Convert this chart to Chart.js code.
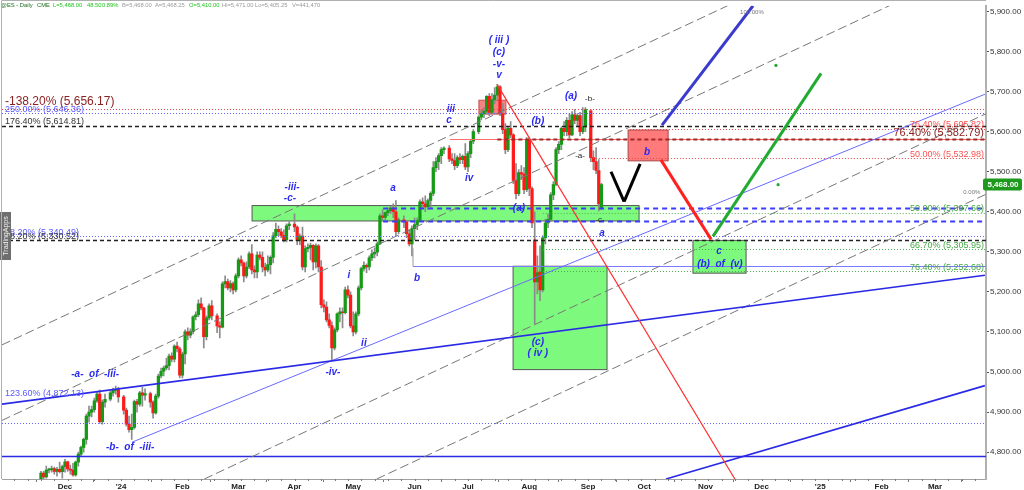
<!DOCTYPE html>
<html>
<head>
<meta charset="utf-8">
<script src="https://cdn.jsdelivr.net/npm/chart.js@4.4.1/dist/chart.umd.min.js"></script>
<style>
  html, body { margin: 0; padding: 0; background: #fff; }
  #wrap { width: 1024px; height: 490px; }
</style>
</head>
<body>
<div id="wrap"><canvas id="chart" width="1024" height="490"></canvas></div>
<script>
// axe x : index en jours ouvrés, 0 = lundi 1er janvier 2024
const monthIdx = [-21, 0, 23, 44, 65, 87, 110, 130, 153, 175, 196, 219, 240, 262, 285, 305];
const monthLabels = ["Dec", "'24", "Feb", "Mar", "Apr", "May", "Jun", "Jul", "Aug", "Sep", "Oct", "Nov", "Dec", "'25", "Feb", "Mar"];
const priceTicks = [4800, 4900, 5000, 5100, 5200, 5300, 5400, 5500, 5600, 5700, 5800, 5900];
const lastPrice = 5468;

// premier index de chaque bloc mensuel, puis [open, high, low, close] (null = jour férié)
const barStart = [-30, -21, 0, 23, 44, 65, 87, 110, 130, 153, 175];
const nov23 = [
  [4728,4752,4722,4748],[4748,4752,4730,4738],[4738,4765,4735,4755],[4755,4760,4748,4756],
  [4756,4765,4750,4759],[4759,4763,4745,4752],[4752,4762,4740,4757],[4757,4775,4748,4751],
  [4751,4768,4735,4764]
];
const dec23 = [
  [4764,4782,4750,4776],[4776,4778,4752,4758],[4758,4768,4745,4755],[4755,4772,4740,4743],
  [4743,4778,4740,4775],[4775,4800,4765,4795],[4795,4815,4790,4812],[4812,4835,4800,4832],
  [4832,4895,4820,4890],[4890,4915,4875,4900],[4900,4915,4888,4906],[4906,4935,4900,4928],
  [4928,4950,4924,4945],[4945,4955,4872,4876],[4876,4930,4870,4925],[4925,4945,4912,4932],
  null,[4932,4952,4928,4948],[4948,4960,4940,4954],[4954,4965,4945,4956],[4956,4962,4925,4938]
];
const jan24 = [
  null,[4938,4942,4895,4905],[4905,4910,4865,4870],[4870,4890,4850,4856],[4856,4895,4832,4862],
  [4862,4930,4858,4926],[4926,4932,4900,4920],[4920,4952,4915,4948],[4948,4962,4915,4942],
  [4942,4958,4930,4946],null,[4946,4950,4912,4925],[4925,4928,4885,4898],[4898,4945,4895,4940],
  [4940,4995,4935,4990],[4990,5010,4985,5002],[5002,5015,4990,5010],[5010,5035,5005,5016],
  [5016,5045,5005,5040],[5040,5048,5025,5032],[5032,5068,5025,5065],[5065,5075,5050,5058],
  [5058,5062,4985,4992]
];
const feb24 = [
  [4992,5050,4985,5045],[5045,5105,5020,5100],[5100,5110,5080,5092],[5092,5108,5085,5101],
  [5101,5140,5095,5138],[5138,5150,5130,5143],[5143,5180,5138,5170],[5170,5185,5155,5160],
  [5160,5162,5060,5088],[5088,5140,5080,5135],[5135,5170,5130,5165],[5165,5178,5130,5140],
  null,[5140,5145,5098,5115],[5115,5125,5085,5112],[5112,5225,5110,5220],[5220,5240,5210,5226],
  [5226,5232,5205,5210],[5210,5228,5200,5221],[5221,5225,5195,5205],[5205,5245,5200,5240]
];
const mar24 = [
  [5240,5285,5235,5280],[5280,5290,5265,5272],[5272,5275,5225,5240],[5240,5275,5235,5262],
  [5262,5300,5258,5295],[5295,5318,5245,5255],[5255,5265,5235,5250],[5250,5300,5235,5292],
  [5292,5300,5280,5286],[5286,5300,5250,5262],[5262,5272,5240,5255],[5255,5290,5250,5268],
  [5268,5290,5245,5286],[5286,5348,5272,5340],[5340,5372,5335,5356],[5356,5365,5340,5350],
  [5350,5358,5335,5341],[5341,5355,5325,5330],[5330,5370,5325,5365],[5365,5375,5355,5369],
  null
];
const apr24 = [
  [5369,5395,5350,5362],[5362,5365,5318,5328],[5328,5345,5318,5339],[5339,5362,5255,5262],
  [5262,5315,5250,5308],[5308,5320,5300,5311],[5311,5322,5280,5316],[5316,5318,5255,5275],
  [5275,5320,5260,5315],[5315,5318,5250,5262],[5262,5278,5160,5168],[5168,5180,5150,5162],
  [5162,5175,5125,5130],[5130,5145,5110,5116],[5116,5125,5028,5060],[5060,5110,5055,5105],
  [5105,5148,5100,5145],[5145,5160,5125,5150],[5150,5160,5110,5148],[5148,5212,5145,5205],
  [5205,5215,5185,5192],[5192,5200,5110,5115]
];
const may24 = [
  [5115,5150,5090,5100],[5100,5150,5095,5145],[5145,5215,5140,5210],[5210,5262,5205,5258],
  [5258,5275,5252,5266],[5266,5270,5248,5262],[5262,5290,5255,5285],[5285,5305,5278,5295],
  [5295,5310,5285,5299],[5299,5325,5290,5320],[5320,5395,5318,5390],[5390,5405,5380,5386],
  [5386,5400,5378,5398],[5398,5410,5390,5403],[5403,5415,5395,5410],[5410,5420,5385,5400],
  [5400,5428,5340,5350],[5350,5385,5345,5380],null,[5380,5390,5360,5375],
  [5375,5378,5335,5345],[5345,5355,5315,5320],[5320,5365,5290,5358]
];
const jun24 = [
  [5358,5385,5330,5368],[5368,5385,5355,5378],[5378,5430,5375,5425],[5425,5435,5410,5420],
  [5420,5440,5400,5412],[5412,5432,5405,5428],[5428,5450,5410,5446],[5446,5525,5440,5510],
  [5510,5535,5500,5525],[5525,5545,5505,5540],[5540,5560,5520,5555],[5555,5562,5545,5559],
  null,[5559,5565,5525,5532],[5532,5545,5520,5528],[5528,5545,5505,5515],
  [5515,5540,5510,5535],[5535,5545,5520,5530],[5530,5542,5520,5538],[5538,5570,5505,5512]
];
const jul24 = [
  [5512,5550,5500,5545],[5545,5580,5535,5576],[5576,5605,5570,5600],null,
  [5600,5640,5595,5636],[5636,5655,5630,5645],[5645,5660,5635,5651],[5651,5690,5645,5688],
  [5688,5695,5640,5648],[5648,5695,5645,5680],[5680,5710,5670,5691],[5691,5718,5680,5712],
  [5712,5715,5640,5645],[5645,5670,5595,5605],[5605,5620,5545,5555],[5555,5612,5550,5608],
  [5608,5625,5585,5592],[5592,5595,5470,5478],[5478,5520,5432,5445],[5445,5505,5440,5498],
  [5498,5515,5480,5494],[5494,5510,5445,5455],[5455,5585,5450,5578]
];
const aug24 = [
  [5578,5585,5440,5458],[5458,5462,5360,5372],[5330,5400,5120,5225],[5225,5290,5195,5248],
  [5250,5315,5178,5205],[5205,5340,5200,5335],[5335,5382,5320,5372],[5372,5395,5360,5381],
  [5381,5448,5375,5442],[5442,5475,5430,5468],[5468,5560,5465,5555],[5555,5575,5545,5568],
  [5568,5612,5555,5608],[5608,5625,5590,5600],[5600,5635,5590,5628],[5628,5645,5585,5592],
  [5592,5650,5590,5642],[5642,5655,5620,5628],[5628,5645,5615,5640],[5640,5648,5590,5600],
  [5600,5660,5595,5612],[5612,5660,5600,5655]
];
const sep24 = [
  null,[5652,5655,5525,5535],[5535,5552,5505,5525],[5525,5560,5495,5503],
  [5503,5530,5402,5419.5],[5410,5471,5405.25,5468]
];
const monthBlocks = [nov23, dec23, jan24, feb24, mar24, apr24, may24, jun24, jul24, aug24, sep24];

// bornes visibles
const X_MIN = -44.6, X_MAX = 324.1, Y_MIN = 4733, Y_MAX = 5914;

// tracés : niveaux horizontaux, boîtes, segments (coordonnées en index / prix)
const hLines = [
  { p: 5656.17, from: X_MIN, s: 'redDot' },
  { p: 5646.36, from: X_MIN, s: 'blueDot' },
  { p: 5614.81, from: X_MIN, s: 'blackDash' },
  { p: 5605.82, from: 190.7, s: 'redDot' },
  { p: 5580.5, from: 123.3, s: 'redThin' },
  { p: 5582.79, from: 141, s: 'darkRedDash' },
  { p: 5532.98, from: 176.8, s: 'redDot' },
  { p: 5410, from: 98.2, s: 'blueDash' },
  { p: 5397.66, from: 158, s: 'greenDot' },
  { p: 5376, from: 98.2, s: 'blueDash' },
  { p: 5340.49, from: X_MIN, s: 'blueDot' },
  { p: 5330.52, from: X_MIN, s: 'blackDash' },
  { p: 5305.95, from: 157, s: 'greenDot' },
  { p: 5264, from: 109.4, s: 'blueThin' },
  { p: 5252.68, from: 157, s: 'greenDot' },
  { p: 4872.13, from: X_MIN, s: 'blueDot' },
  { p: 4790, from: X_MIN, s: 'blueSolid' }
];
const boxes = [
  { x0: 49.1, x1: 194.1, p0: 5415.4, p1: 5377, s: 'greenBox' },
  { x0: 146.9, x1: 182.1, p0: 5264, p1: 5006, s: 'greenBox' },
  { x0: 214.3, x1: 234.2, p0: 5328.5, p1: 5246.7, s: 'greenBox' },
  { x0: 134.1, x1: 144.2, p0: 5678.4, p1: 5643.7, s: 'pinkBox' },
  { x0: 190, x1: 205, p0: 5604, p1: 5527, s: 'redBox' }
];
const segments = [
  { a: [-44.6, 5067.8], b: [227.3, 5914.2], s: 'grayDash' },
  { a: [-44.6, 4879.3], b: [287.9, 5914.2], s: 'grayDash' },
  { a: [31.2, 4733], b: [324.1, 5644.7], s: 'grayDash' },
  { a: [95.8, 4733], b: [324.1, 5443.7], s: 'grayDash' },
  { a: [4.1, 4824.8], b: [323.7, 5693.3], s: 'blueFine' },
  { a: [-44.6, 4919.8], b: [323.7, 5241.7], s: 'blueMid' },
  { a: [204.2, 4733], b: [323.7, 4966], s: 'blueMid' },
  { a: [109.4, 5308.7], b: [109.4, 5264], s: 'grayFine' },
  { a: [140.9, 5718], b: [230, 4733], s: 'redLine' },
  { a: [202.3, 5529.5], b: [221.1, 5331], s: 'redThick' },
  { a: [221.8, 5338.5], b: [262.3, 5745.4], s: 'greenThick' },
  { a: [202.7, 5616.4], b: [236.8, 5914], s: 'blueThick' },
  { a: [183.6, 5499.8], b: [188.5, 5425.3], s: 'blackThick' },
  { a: [188.5, 5425.3], b: [194.5, 5519.6], s: 'blackThick' }
];
const dots = [[245.4, 5765.3], [246.2, 5467.5]];

const waveLabels = [
  ['( iii )', 141.6, 5827.3], ['(c)', 141.6, 5797.5], ['-v-', 141.6, 5767.8], ['v', 141.6, 5740.5],
  ['iii', 123.6, 5656.1], ['c', 122.9, 5628.8], ['(b)', 156.2, 5626.3], ['iv', 130.4, 5482.4],
  ['(a)', 168.6, 5688.3], ['b', 197.1, 5549.4], ['-iii-', 64.1, 5460.1], ['-c-', 63.3, 5432.8],
  ['a', 101.9, 5457.6], ['i', 85.4, 5241.7], ['b', 110.9, 5234.2], ['ii', 91, 5073],
  ['-iv-', 79.4, 4998.5], ['-a-  of  -iii-', -9.7, 4993.5], ['-b-  of  -iii-', 3.4, 4812.4],
  ['(a)', 149.1, 5408], ['a', 180.2, 5345.9], ['(c)', 156.2, 5075.4], ['( iv )', 156.2, 5045.7],
  ['c', 224.1, 5301.2], ['(b)  of  (v)', 224.4, 5269]
];
const smallLabels = [['-b-', 175.7, 5681], ['-a-', 172, 5539.5], ['-c-', 179.5, 5380.7]];
const leftFib = [
  ['-138.20% (5,656.17)', 5673.5, 'darkRed', 12],
  ['250.00% (5,646.36)', 5654.8, 'blue', 9],
  ['176.40% (5,614.81)', 5626.3, 'dark', 9],
  ['38.20% (5,340.49)', 5348.4, 'blue', 9],
  ['38.20% (5,330.52)', 5338.5, 'dark', 9],
  ['123.60% (4,872.13)', 4946.4, 'blue', 9]
];
const rightFib = [
  ['76.40% (5,605.82)', 5618.5, 'red', 9],
  ['76.40% (5,582.79)', 5597, 'darkRed', 11],
  ['50.00% (5,532.98)', 5543.6, 'red', 9],
  ['50.00% (5,397.66)', 5408, 'green', 9],
  ['66.70% (5,305.95)', 5315.4, 'green', 9],
  ['76.40% (5,252.68)', 5261.5, 'green', 9]
];
const header = [
  ['@ES - Daily', 1, '#1a6e1a'], ['CME', 37, '#1a6e1a'], ['L=5,468.00', 53, '#22c322'],
  ['48.50', 87, '#22c322'], ['0.89%', 102, '#22c322'], ['B=5,468.00', 122, '#9a9a9a'],
  ['A=5,468.25', 155, '#9a9a9a'], ['O=5,410.00', 189, '#22c322'], ['Hi=5,471.00', 222, '#9a9a9a'],
  ['Lo=5,405.25', 255, '#9a9a9a'], ['V=441,470', 292, '#9a9a9a']
];

const styles = {
  redDot: { c: '#e04848', w: 1, d: [1, 2] },
  blueDot: { c: '#6464ff', w: 1, d: [1, 2] },
  greenDot: { c: '#4fae4f', w: 1, d: [1, 2] },
  blackDash: { c: '#222', w: 1.5, d: [4, 3] },
  darkRedDash: { c: '#a02828', w: 2, d: [4, 3] },
  redThin: { c: '#ff6a6a', w: 1, d: [] },
  blueDash: { c: '#3c3cff', w: 2, d: [5, 4] },
  blueThin: { c: '#7a7aff', w: 1, d: [] },
  blueSolid: { c: '#2a2ae0', w: 1.5, d: [] },
  grayDash: { c: '#777', w: 1, d: [9, 4] },
  grayFine: { c: '#999', w: 1, d: [] },
  blueFine: { c: '#6a6aff', w: 1, d: [] },
  blueMid: { c: '#2a2ae6', w: 1.6, d: [] },
  redLine: { c: '#ff3030', w: 1.2, d: [] },
  redThick: { c: '#ff2020', w: 3, d: [] },
  greenThick: { c: '#22aa33', w: 3, d: [] },
  blueThick: { c: '#3a3acc', w: 3, d: [] },
  blackThick: { c: '#000', w: 3, d: [] },
  greenBox: { fill: '#7dfa7d', line: '#555' },
  pinkBox: { fill: 'rgba(240,110,110,0.85)', line: '#c85050' },
  redBox: { fill: '#ff7a7a', line: '#a84848' }
};
const textColors = { darkRed: '#8b2222', red: '#ff5050', blue: '#5a5aff', dark: '#333', green: '#45a845' };
const FONT = '"Liberation Sans", Arial, sans-serif';

// bougies
const wickData = [], bodyData = [], bodyColors = [];
monthBlocks.forEach((rows, m) => {
  rows.forEach((r, i) => {
    if (!r) return;
    const x = barStart[m] + i;
    const [o, h, l, c] = r;
    wickData.push({ x: x, y: [l, h] });
    bodyData.push({ x: x, y: [o, c] });
    bodyColors.push(c >= o ? '#159a15' : '#ff1a1a');
  });
});

function strokeLine(ctx, x0, y0, x1, y1, st) {
  ctx.strokeStyle = st.c;
  ctx.lineWidth = st.w;
  ctx.setLineDash(st.d);
  ctx.beginPath();
  ctx.moveTo(x0, y0);
  ctx.lineTo(x1, y1);
  ctx.stroke();
}
function text(ctx, s, x, y, font, color, align) {
  ctx.font = font;
  ctx.fillStyle = color;
  ctx.textAlign = align || 'center';
  ctx.textBaseline = 'middle';
  ctx.fillText(s, x, y);
}

const overlay = {
  id: 'overlay',
  beforeDatasetsDraw(chart) {
    const { ctx, chartArea: a, scales: { x, y } } = chart;
    ctx.save();
    ctx.beginPath();
    ctx.rect(a.left, a.top, a.right - a.left, a.bottom - a.top);
    ctx.clip();
    boxes.forEach(b => {
      const st = styles[b.s];
      const x0 = x.getPixelForValue(b.x0), x1 = x.getPixelForValue(b.x1);
      const y0 = y.getPixelForValue(b.p0), y1 = y.getPixelForValue(b.p1);
      ctx.fillStyle = st.fill;
      ctx.fillRect(x0, y0, x1 - x0, y1 - y0);
      ctx.setLineDash([]);
      ctx.strokeStyle = st.line;
      ctx.lineWidth = 1;
      ctx.strokeRect(x0, y0, x1 - x0, y1 - y0);
    });
    ctx.restore();
  },
  afterDatasetsDraw(chart) {
    const { ctx, chartArea: a, scales: { x, y } } = chart;
    ctx.save();
    ctx.beginPath();
    ctx.rect(a.left, a.top, a.right - a.left, a.bottom - a.top);
    ctx.clip();
    hLines.forEach(h => {
      const yy = Math.round(y.getPixelForValue(h.p)) + 0.5;
      strokeLine(ctx, x.getPixelForValue(h.from), yy, x.getPixelForValue(X_MAX), yy, styles[h.s]);
    });
    segments.forEach(sg => {
      strokeLine(ctx, x.getPixelForValue(sg.a[0]), y.getPixelForValue(sg.a[1]),
        x.getPixelForValue(sg.b[0]), y.getPixelForValue(sg.b[1]), styles[sg.s]);
    });
    ctx.setLineDash([]);
    ctx.fillStyle = '#22aa33';
    dots.forEach(d => {
      ctx.beginPath();
      ctx.arc(x.getPixelForValue(d[0]), y.getPixelForValue(d[1]), 1.6, 0, Math.PI * 2);
      ctx.fill();
    });

    waveLabels.forEach(l => text(ctx, l[0], x.getPixelForValue(l[1]), y.getPixelForValue(l[2]),
      'italic bold 10px ' + FONT, '#2a2af0'));
    smallLabels.forEach(l => text(ctx, l[0], x.getPixelForValue(l[1]), y.getPixelForValue(l[2]),
      '8px ' + FONT, '#222'));
    leftFib.forEach(l => text(ctx, l[0], a.left + 3, y.getPixelForValue(l[1]),
      l[3] + 'px ' + FONT, textColors[l[2]], 'left'));
    rightFib.forEach(l => text(ctx, l[0], a.right - 2, y.getPixelForValue(l[1]),
      l[3] + 'px ' + FONT, textColors[l[2]], 'right'));
    text(ctx, '100.00%', x.getPixelForValue(236.4), y.getPixelForValue(5896.8), '6px ' + FONT, '#777');
    text(ctx, '0.00%', x.getPixelForValue(318.8), y.getPixelForValue(5448.4), '6px ' + FONT, '#777');
    ctx.restore();

    // en-tête
    ctx.save();
    header.forEach(hd => text(ctx, hd[0], hd[1], 5, '5.8px ' + FONT, hd[2], 'left'));

    // onglet TradingApps
    ctx.fillStyle = '#6e6e6e';
    ctx.fillRect(0, 212, 11, 48);
    ctx.translate(6, 236);
    ctx.rotate(-Math.PI / 2);
    text(ctx, 'TradingApps', 0, 0, '7px ' + FONT, '#f0f0f0');
    ctx.restore();

    // cadre
    ctx.save();
    ctx.strokeStyle = '#b0b0b0';
    ctx.lineWidth = 1;
    ctx.beginPath();
    ctx.moveTo(a.left - 0.5, a.bottom);
    ctx.lineTo(a.left - 0.5, 0.5);
    ctx.lineTo(a.right, 0.5);
    ctx.stroke();
    // petits repères hebdomadaires
    ctx.strokeStyle = '#777';
    for (let i = -45; i <= X_MAX; i += 5) {
      const xx = Math.round(x.getPixelForValue(i)) + 0.5;
      if (xx < a.left || xx > a.right) continue;
      ctx.beginPath();
      ctx.moveTo(xx, a.bottom);
      ctx.lineTo(xx, a.bottom + 2);
      ctx.stroke();
    }
    // étiquette du dernier cours
    const ty = y.getPixelForValue(lastPrice);
    ctx.fillStyle = '#1d9a1d';
    ctx.beginPath();
    ctx.roundRect(a.right - 3, ty - 6, 39, 12, 2);
    ctx.fill();
    text(ctx, lastPrice.toLocaleString('en-US', { minimumFractionDigits: 2 }), a.right + 17, ty,
      'bold 8px ' + FONT, '#fff');
    ctx.restore();
  }
};

new Chart(document.getElementById('chart'), {
  type: 'bar',
  data: {
    datasets: [
      {
        label: 'body',
        data: bodyData,
        backgroundColor: bodyColors,
        barThickness: 2.6,
        minBarLength: 1,
        grouped: false,
        order: 0
      },
      {
        label: 'wick',
        data: wickData,
        backgroundColor: '#8a8a8a',
        barThickness: 1,
        grouped: false,
        order: 1
      }
    ]
  },
  options: {
    responsive: false,
    animation: false,
    devicePixelRatio: 1,
    layout: { padding: { left: 2, top: 3, right: 0, bottom: 0 } },
    plugins: { legend: { display: false }, tooltip: { enabled: false } },
    scales: {
      x: {
        type: 'linear',
        min: X_MIN,
        max: X_MAX,
        offset: false,
        afterBuildTicks: s => { s.ticks = monthIdx.map(v => ({ value: v })); },
        afterFit: s => { s.height = 11; },
        ticks: {
          autoSkip: false,
          maxRotation: 0,
          padding: 0,
          color: '#222',
          font: { family: FONT, size: 8, weight: 'bold' },
          callback: (v, i) => monthLabels[i]
        },
        grid: { drawOnChartArea: false, tickLength: 3, color: '#777' },
        border: { color: '#a0a0a0', width: 1 }
      },
      y: {
        position: 'right',
        min: Y_MIN,
        max: Y_MAX,
        afterBuildTicks: s => { s.ticks = priceTicks.map(v => ({ value: v })); },
        afterFit: s => { s.width = 38; },
        ticks: {
          padding: 1,
          color: '#333',
          font: { family: FONT, size: 8 },
          callback: v => v.toLocaleString('en-US', { minimumFractionDigits: 2 })
        },
        grid: { drawOnChartArea: false, tickLength: 3, color: '#555' },
        border: { color: '#b0b0b0', width: 2 }
      }
    }
  },
  plugins: [overlay]
});
</script>
</body>
</html>
